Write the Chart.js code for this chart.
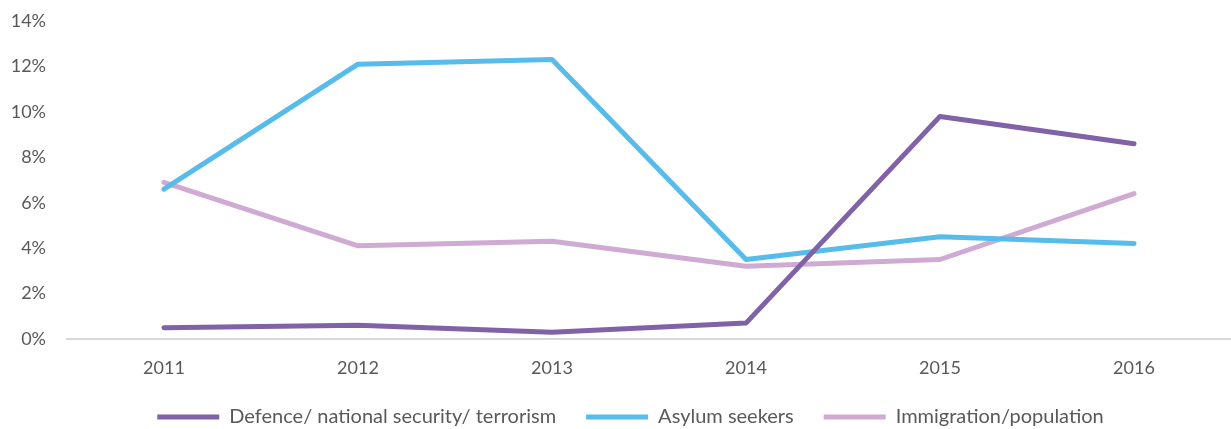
<!DOCTYPE html>
<html>
<head>
<meta charset="utf-8">
<script src="https://cdn.jsdelivr.net/npm/chart.js@4/dist/chart.umd.min.js"></script>
<style>
  html, body { margin: 0; padding: 0; background: #fff; }
  #wrap { width: 1231px; height: 429px; position: relative; }
</style>
</head>
<body>
<div id="wrap"><canvas id="lineChart"></canvas></div>
<script>
// Years along the x axis
const years = ['2011', '2012', '2013', '2014', '2015', '2016'];

// Share of mentions, in percent
const defence = [0.5, 0.6, 0.3, 0.7, 9.8, 8.6];
const asylum = [6.6, 12.1, 12.3, 3.5, 4.5, 4.2];
const immigration = [6.9, 4.1, 4.3, 3.2, 3.5, 6.4];

const seriesNames = ['Defence/ national security/ terrorism', 'Asylum seekers', 'Immigration/population'];
const seriesColors = ['#8062a6', '#58bceb', '#cfaad2'];

const textColor = '#595959';
Chart.defaults.font.family = 'Lato, "Open Sans", sans-serif';
Chart.defaults.color = textColor;

function makeSet(i, values) {
  return {
    label: seriesNames[i],
    data: values,
    borderColor: seriesColors[i],
    backgroundColor: seriesColors[i],
    borderWidth: 5,
    borderCapStyle: 'round',
    borderJoinStyle: 'round',
    pointRadius: 0,
    pointHoverRadius: 0,
    tension: 0
  };
}

// legend keeps wide gaps between items but sits closer to the bottom edge,
// and is nudged a little to the right like the original
const legendTrim = {
  id: 'legendTrim',
  beforeLayout(chart) {
    const lg = chart.legend;
    if (!lg || lg._trimmed) return;
    const origFit = lg.fit;
    lg.fit = function () {
      origFit.call(this);
      this.height -= 8;
    };
    lg._trimmed = true;
  },
  afterLayout(chart) {
    const lg = chart.legend;
    if (!lg) return;
    lg.left += 15;
    lg.right += 15;
  }
};

const ctx = document.getElementById('lineChart').getContext('2d');
window.myChart = new Chart(ctx, {
  type: 'line',
  data: {
    labels: years,
    datasets: [makeSet(0, defence), makeSet(1, asylum), makeSet(2, immigration)]
  },
  plugins: [legendTrim],
  options: {
    responsive: true,
    maintainAspectRatio: false,
    animation: false,
    layout: { padding: { top: 21, right: 0, bottom: 0, left: 0 } },
    plugins: {
      tooltip: { enabled: false },
      legend: {
        position: 'bottom',
        labels: {
          boxWidth: 62,
          boxHeight: 5,
          padding: 30,
          font: { size: 20 },
          color: textColor,
          generateLabels: function (chart) {
            return chart.data.datasets.map((ds, i) => ({
              text: ds.label,
              fillStyle: ds.borderColor,
              strokeStyle: ds.borderColor,
              lineWidth: 0,
              hidden: false,
              datasetIndex: i,
              fontColor: textColor
            }));
          }
        }
      }
    },
    scales: {
      x: {
        offset: true,
        grid: { display: false, drawTicks: false },
        border: { display: true, color: '#d9d9d9', width: 2 },
        afterFit: function (scale) { scale.height = 38; },
        ticks: { font: { size: 18 }, padding: 18, color: textColor }
      },
      y: {
        min: 0,
        max: 14,
        grid: { display: false, drawTicks: false },
        border: { display: false },
        afterFit: function (scale) {
          scale.width = 67;
          scale.paddingTop = 0;
          scale.paddingBottom = 0;
        },
        ticks: {
          stepSize: 2,
          padding: 21,
          font: { size: 18 },
          color: textColor,
          callback: v => v + '%'
        }
      }
    }
  }
});
</script>
</body>
</html>
